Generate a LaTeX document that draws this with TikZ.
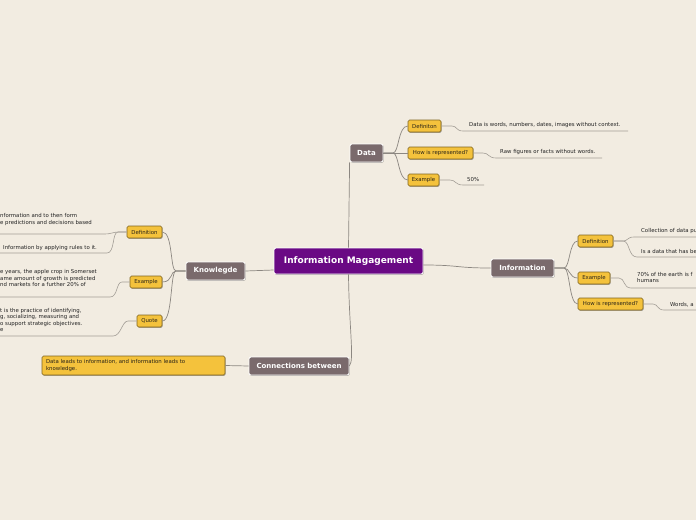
\documentclass[tikz,border=0pt]{standalone}
\usepackage{fontspec}
\setmainfont{DejaVu Sans}
\usetikzlibrary{shadows,calc}
\definecolor{bgC}{HTML}{F2ECE1}
\definecolor{purpleC}{HTML}{6A0984}
\definecolor{grayC}{HTML}{7A6A6C}
\definecolor{yellowC}{HTML}{F4C23C}
\definecolor{yellowB}{HTML}{7E6420}
\definecolor{leafT}{HTML}{2A2418}
\definecolor{txtC}{HTML}{222222}
\definecolor{lineC}{HTML}{8C8781}
\definecolor{ulC}{HTML}{A39E97}
\begin{document}
\begin{tikzpicture}[x=1pt,y=-1pt,
  shad/.style={drop shadow={shadow xshift=0.7pt,shadow yshift=-0.8pt,opacity=0.3,fill=black}},
  root/.style={draw=white,line width=0.8pt,fill=purpleC,rounded corners=2pt,text=white,
    font=\fontsize{9}{10}\selectfont\bfseries,minimum width=149pt,minimum height=26pt,inner sep=0pt,shad},
  branch/.style={draw=white,line width=0.8pt,fill=grayC,rounded corners=2pt,text=white,
    font=\fontsize{7}{8}\selectfont\bfseries,minimum height=18pt,inner sep=0pt,shad},
  leaf/.style={draw=yellowB,line width=0.6pt,fill=yellowC,rounded corners=1.5pt,text=leafT,
    font=\fontsize{5.4}{6.4}\selectfont,minimum height=12pt,inner sep=0pt,shad},
  txt/.style={font=\fontsize{5.4}{6.5}\selectfont,text=txtC,inner sep=0pt,align=left},
  conn/.style={draw=lineC,line width=0.7pt},
  uline/.style={draw=ulC,line width=0.6pt},
]
\fill[bgC] (0,0) rectangle (696,520);
\useasboundingbox (0,0) rectangle (696,520);
\clip (0,0) rectangle (696,520);

% main nodes
\node[root] (C) at (348.5,261) {Information Magagement};
\node[branch,minimum width=33pt] (D) at (366.5,153) {Data};
\node[branch,minimum width=63pt] (I) at (522.5,268) {Information};
\node[branch,minimum width=59pt] (K) at (215.5,271) {Knowlegde};
\node[branch,minimum width=100pt] (N) at (299,366) {Connections between};

% Data leaves
\node[leaf,minimum width=33pt] (DDef) at (424.5,126) {Definiton};
\node[leaf,minimum width=65pt] (DHow) at (440.5,153) {How is represented?};
\node[leaf,minimum width=31pt] (DEx) at (423.5,180) {Example};
% Information leaves
\node[leaf,minimum width=35pt] (IDef) at (595.5,241) {Definition};
\node[leaf,minimum width=32pt] (IEx) at (594,278) {Example};
\node[leaf,minimum width=65pt] (IHow) at (610.5,304) {How is represented?};
% Knowledge leaves
\node[leaf,minimum width=35pt] (KDef) at (144.5,232) {Definition};
\node[leaf,minimum width=32pt] (KEx) at (146,282) {Example};
\node[leaf,minimum width=25pt] (KQ) at (149.5,321) {Quote};
% Connections leaf
\node[leaf,text width=175pt,inner xsep=4pt,minimum height=19pt,align=left] (NC) at (133.5,365.5)
  {Data leads to information, and information leads to\\knowledge.};

% texts
\node[txt,anchor=west] (tD1) at (469,125.5) {Data is words, numbers, dates, images without context.};
\node[txt,anchor=west] (tD2) at (500,152.5) {Raw figures or facts without words.};
\node[txt,anchor=west] (tD3) at (467,179.5) {50\%};
\node[txt,anchor=west] (tI1) at (641,231.5) {Collection of data pu};
\node[txt,anchor=west] (tI2) at (641,251.5) {Is a data that has be};
\node[txt,anchor=west] (tI3) at (637,277.5) {70\% of the earth is f\\humans};
\node[txt,anchor=west] (tI4) at (670,304.5) {Words, a};
\node[txt,anchor=west] (tK1) at (0,219.5) {nformation and to then form\\e predictions and decisions based};
\node[txt,anchor=west] (tK2) at (3,248.5) {Information by applying rules to it.};
\node[txt,anchor=west] (tK3) at (0,278) {e years, the apple crop in Somerset\\ame amount of growth is predicted\\nd markets for a further 20\% of};
\node[txt,anchor=west] (tK4) at (0,320) {t is the practice of identifying,\\g, socializing, measuring and\\o support strategic objectives.\\e};

% underline end points
\coordinate (eD1) at (628,131);
\coordinate (eD2) at (602,158);
\coordinate (eD3) at (484,185);
\coordinate (eI1) at (696,237);
\coordinate (eI2) at (696,257);
\coordinate (eI3) at (696,288);
\coordinate (eI4) at (696,310);
\coordinate (eK1) at (0,234);
\coordinate (eK2) at (0,253);
\coordinate (eK3) at (0,297);
\coordinate (eK4) at (0,336);

% main connectors
\draw[conn] (C.north) -- (D.south west);
\draw[conn] ($(C.east)+(0,4)$) .. controls (460,265) and (455,268) .. (I.west);
\draw[conn] ($(C.west)+(0,9)$) -- (K.east);
\draw[conn] (C.south) .. controls (349,320) and (353,350) .. (351,362) -- (N.east);
\draw[conn] (NC.east) -- (N.west);

% Data fan
\draw[conn] (D.east) -- (393,153) .. controls (399,153) and (398,126) .. (DDef.west);
\draw[conn] (D.east) -- (DHow.west);
\draw[conn] (D.east) -- (393,153) .. controls (399,153) and (398,180) .. (DEx.west);
% Information fan
\draw[conn] (I.east) -- (564,268) .. controls (570,268) and (569,241) .. (IDef.west);
\draw[conn] (I.east) -- (564,268) .. controls (570,268) and (569,278) .. (IEx.west);
\draw[conn] (I.east) -- (564,268) .. controls (570,268) and (569,304) .. (IHow.west);
% Knowledge fan
\draw[conn] (K.west) -- (176,271) .. controls (170,271) and (173,232) .. (KDef.east);
\draw[conn] (K.west) -- (176,271) .. controls (170,271) and (173,282) .. (KEx.east);
\draw[conn] (K.west) -- (176,271) .. controls (170,271) and (173,321) .. (KQ.east);

% leaf to text underlines
\draw[uline] (DDef.east) -- (452,126) .. controls (457,126) and (456,131) .. (463,131) -- (eD1);
\draw[uline] (DHow.east) -- (483,153) .. controls (489,153) and (488,158) .. (496,158) -- (eD2);
\draw[uline] (DEx.east) -- (450,180) .. controls (456,180) and (455,185) .. (463,185) -- (eD3);
\draw[uline] (IDef.east) -- (623,241) .. controls (628,241) and (627,237) .. (634,237) -- (eI1);
\draw[uline] (IDef.east) -- (623,241) .. controls (630,241) and (628,257) .. (637,257) -- (eI2);
\draw[uline] (IEx.east) -- (619,278) .. controls (625,278) and (623,288) .. (631,288) -- (eI3);
\draw[uline] (IHow.east) -- (653,304) .. controls (658,304) and (657,310) .. (664,310) -- (eI4);
\draw[uline] (KDef.west) -- (118,232) .. controls (113,232) and (112,234) .. (104,234) -- (eK1);
\draw[uline] (KDef.west) -- (118,232) .. controls (112,232) and (115,253) .. (107,253) -- (eK2);
\draw[uline] (KEx.west) -- (122,282) .. controls (116,282) and (118,297) .. (110,297) -- (eK3);
\draw[uline] (KQ.west) -- (128,321) .. controls (122,321) and (121,336) .. (113,336) -- (eK4);
\end{tikzpicture}
\end{document}
